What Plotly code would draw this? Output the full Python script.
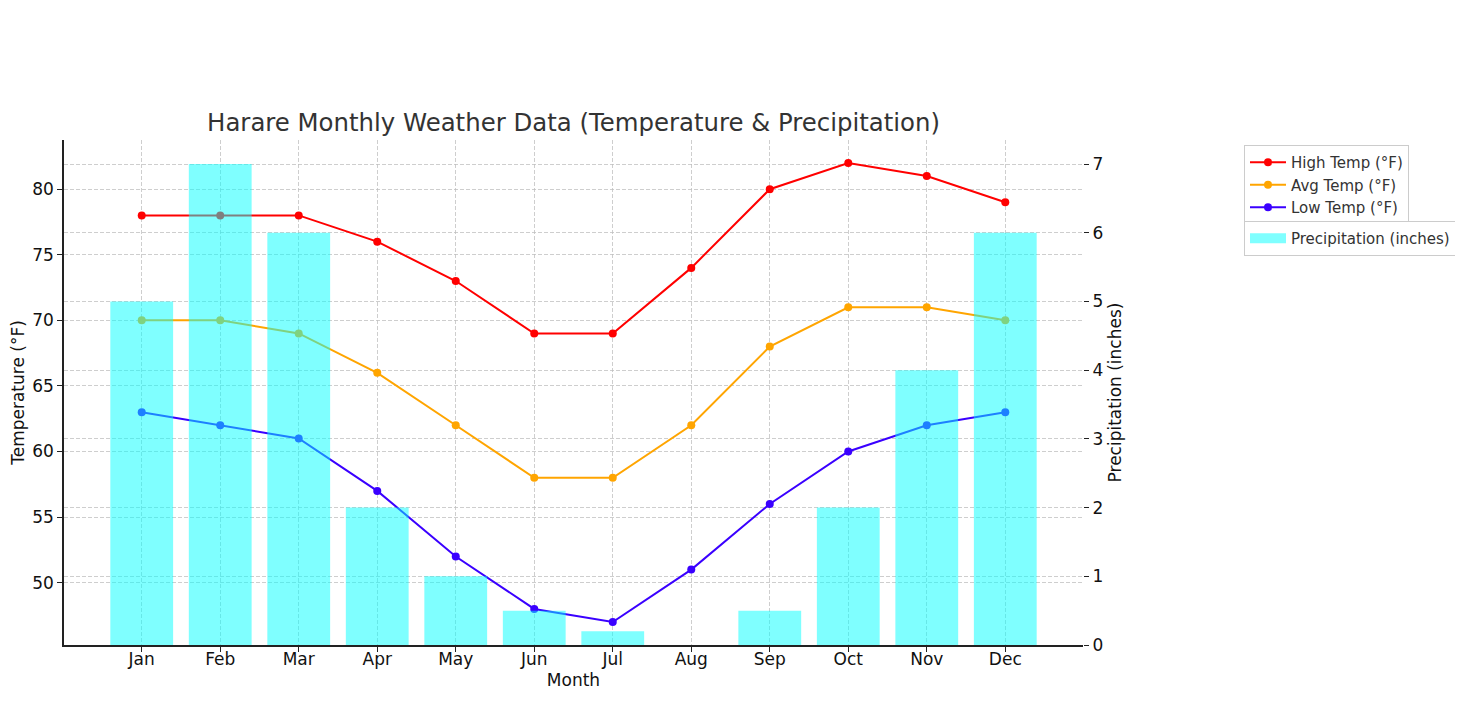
import plotly.graph_objects as go

months = ["Jan", "Feb", "Mar", "Apr", "May", "Jun", "Jul", "Aug", "Sep", "Oct", "Nov", "Dec"]
high_temp = [78, 78, 78, 76, 73, 69, 69, 74, 80, 82, 81, 79]
avg_temp = [70, 70, 69, 66, 62, 58, 58, 62, 68, 71, 71, 70]
low_temp = [63, 62, 61, 57, 52, 48, 47, 51, 56, 60, 62, 63]
precip = [5, 7, 6, 2, 1, 0.5, 0.2, 0, 0.5, 2, 4, 6]

FONT = "DejaVu Sans"
# page body has an 8px margin; figure coords = screen coords - 8
W, H = 1447, 695
L, R, T, B = 64 - 8, 1083 - 8, 140 - 8, 645 - 8
BAR_COLOR = "rgba(0,255,255,0.5)"

fig = go.Figure()

for name, vals, col in [("High Temp (°F)", high_temp, "#FF0000"),
                        ("Avg Temp (°F)", avg_temp, "#FFA500"),
                        ("Low Temp (°F)", low_temp, "#3A00FF")]:
    fig.add_trace(go.Scatter(x=months, y=vals, name=name, mode="lines+markers",
                             line=dict(color=col, width=2), marker=dict(color=col, size=8),
                             legend="legend", yaxis="y"))

fig.add_trace(go.Bar(x=months, y=precip, name="Precipitation (inches)",
                     marker=dict(color=BAR_COLOR, line=dict(width=0)),
                     width=0.8, yaxis="y2", showlegend=False))
# legend swatch for the bars (wide rectangle like the reference)
fig.add_trace(go.Scatter(x=[None], y=[None], name="Precipitation (inches)", mode="lines",
                         line=dict(color=BAR_COLOR, width=11), yaxis="y2",
                         legend="legend2", hoverinfo="skip"))

grid = "rgba(190,190,190,0.75)"
dash = "4px,2px"
pw, ph = R - L, B - T
fig.update_layout(
    width=W, height=H,
    margin=dict(l=L, r=W - R, t=T, b=H - B, autoexpand=False),
    plot_bgcolor="white", paper_bgcolor="white",
    font=dict(family=FONT, size=17, color="#111111"),
    title=dict(text="Harare Monthly Weather Data (Temperature & Precipitation)",
               x=(L + R) / 2 / W, xanchor="center", xref="container",
               y=1 - (122 - 8) / H, yanchor="middle", yref="container",
               font=dict(family=FONT, size=24.4, color="#333333")),
    xaxis=dict(type="category", range=[-0.99, 11.99], showline=True, linecolor="#222",
               linewidth=1.5, ticks="outside", ticklen=5, tickcolor="#222",
               showgrid=True, gridcolor=grid, griddash=dash, gridwidth=1,
               title=dict(text="Month", font=dict(size=17), standoff=6),
               tickfont=dict(size=17), zeroline=False, ticklabelstandoff=-7),
    yaxis=dict(range=[45.25, 83.75], tickvals=[50, 55, 60, 65, 70, 75, 80],
               showline=True, linecolor="#222", linewidth=1.5, ticks="outside",
               ticklen=5, tickcolor="#222", showgrid=True, gridcolor=grid,
               griddash=dash, gridwidth=1, zeroline=False,
               title=dict(text="Temperature (°F)", font=dict(size=17), standoff=8),
               tickfont=dict(size=17)),
    yaxis2=dict(range=[0, 7.35], tickvals=[0, 1, 2, 3, 4, 5, 6, 7], overlaying="y",
                side="right", showline=False, ticks="outside", ticklen=5, tickcolor="#222",
                showgrid=True, gridcolor=grid, griddash=dash, gridwidth=1, zeroline=False,
                title=dict(text="Precipitation (inches)", font=dict(size=17), standoff=6),
                tickfont=dict(size=17)),
    legend=dict(x=(1244 - 8 - L) / pw, xanchor="left", y=(B - (145 - 8)) / ph, yanchor="top",
                bordercolor="#CCCCCC", borderwidth=1, bgcolor="white",
                font=dict(family=FONT, size=15, color="#333333"), tracegroupgap=0,
                itemwidth=36),
    legend2=dict(x=(1244 - 8 - L) / pw, xanchor="left", y=(B - (221 - 8)) / ph, yanchor="top",
                 bordercolor="#CCCCCC", borderwidth=1, bgcolor="white",
                 font=dict(family=FONT, size=15, color="#333333"), itemwidth=36),
    showlegend=True,
)

fig.write_html("out.html")
